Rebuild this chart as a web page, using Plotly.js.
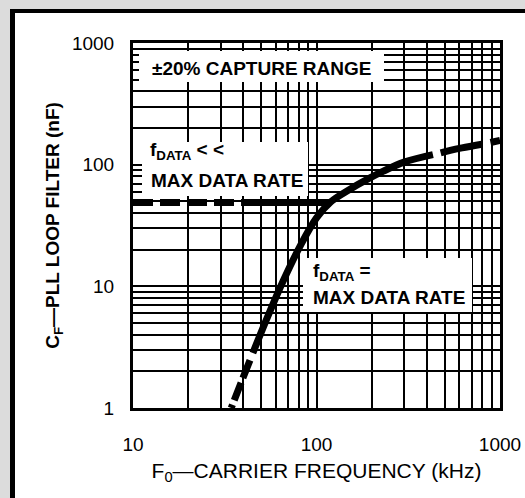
<!DOCTYPE html>
<html>
<head>
<meta charset="utf-8">
<script src="https://cdn.plot.ly/plotly-3.0.1.min.js"></script>
<style>
  html, body { margin: 0; padding: 0; background: #dcdcdc; width: 525px; height: 498px; overflow: hidden; }
  #frame { position: absolute; left: 10px; top: 9px; width: 620px; height: 620px; border-left: 5px solid #000; border-top: 4px solid #000; background: #fff; }
  #chart { position: absolute; left: 0; top: 0; width: 525px; height: 498px; }
</style>
</head>
<body>
<div id="frame"></div>
<div id="chart"></div>
<script>
// ---- data ----
const xTickVals = [10, 100, 1000];
const xTickText = ["10", "100", "1000"];
const yTickVals = [1, 10, 100, 1000];
const yTickText = ["1", "10", "100", "1000"];
const xMinorVals = [20, 30, 40, 50, 60, 70, 80, 90, 200, 300, 400, 500, 600, 700, 800, 900];
const yMinorVals = [2, 3, 4, 5, 6, 7, 8, 9, 20, 30, 40, 50, 60, 70, 80, 90, 200, 300, 400, 500, 600, 700, 800, 900];

// horizontal line: f_DATA << max data rate
const flatDashX = [10, 38.8];
const flatDashY = [48.8, 48.8];
const flatSolidX = [38.8, 119];
const flatSolidY = [48.8, 48.8];

// curve: f_DATA = max data rate
const curveLowX = [43.4, 36.9, 34.3];
const curveLowY = [2.47, 1.33, 1.0];
const curveMidX = [45, 53.7, 65.7, 81, 100, 120, 150, 190, 230, 300, 431];
const curveMidY = [2.83, 5.45, 11.0, 21.1, 36.5, 49.7, 62, 76, 88, 105, 121];
const curveHighX = [475, 600, 828, 1000];
const curveHighY = [125, 136, 149, 158];

// ---- layout helpers (pixel -> paper) ----
const L = 133, R = 500, T = 43, B = 408;
const px = x => (x - L) / (R - L);
const py = y => (B - y) / (B - T);

const boxFont = { family: "Liberation Sans, Arial, sans-serif", size: 19, color: "#000", weight: "bold" };

const lineStyle = (dash) => ({ color: "#000", width: 7, dash: dash, shape: "spline" });

const traces = [
  { x: flatDashX, y: flatDashY, mode: "lines", line: lineStyle("20px,7px"), hoverinfo: "skip" },
  { x: flatSolidX, y: flatSolidY, mode: "lines", line: lineStyle("solid"), hoverinfo: "skip" },
  { x: curveLowX, y: curveLowY, mode: "lines", line: lineStyle("19px,5px"), hoverinfo: "skip" },
  { x: curveMidX, y: curveMidY, mode: "lines", line: lineStyle("solid"), hoverinfo: "skip" },
  { x: curveHighX, y: curveHighY, mode: "lines", line: lineStyle("42px,9px"), hoverinfo: "skip" }
];

const axisCommon = {
  type: "log",
  showline: true, linecolor: "#000", linewidth: 3, mirror: true,
  showgrid: true, gridcolor: "#000", gridwidth: 2,
  ticks: "", zeroline: false,
  tickfont: { family: "Liberation Sans, Arial, sans-serif", size: 19, color: "#000" }
};

const layout = {
  width: 525, height: 498,
  margin: { l: L, r: 525 - R, t: T, b: 498 - B },
  paper_bgcolor: "rgba(0,0,0,0)",
  plot_bgcolor: "#fff",
  showlegend: false,
  xaxis: Object.assign({}, axisCommon, {
    range: [1, 3],
    tickmode: "array", tickvals: xTickVals, ticktext: xTickText,
    ticklabelstandoff: 17,
    minor: { tickmode: "array", tickvals: xMinorVals, showgrid: true, gridcolor: "#000", gridwidth: 2, ticks: "" },
    title: { text: "F<sub>0</sub>—CARRIER FREQUENCY (kHz)", font: { family: "Liberation Sans, Arial, sans-serif", size: 21, color: "#000" }, standoff: 10 }
  }),
  yaxis: Object.assign({}, axisCommon, {
    range: [0, 3],
    tickmode: "array", tickvals: yTickVals, ticktext: yTickText,
    ticklabelstandoff: 12,
    minor: { tickmode: "array", tickvals: yMinorVals, showgrid: true, gridcolor: "#000", gridwidth: 2, ticks: "" },
    title: { text: "C<sub>F</sub>—PLL LOOP FILTER (nF)", font: { family: "Liberation Sans, Arial, sans-serif", size: 19, color: "#000", weight: "bold" }, standoff: 8 }
  }),
  shapes: [
    { type: "rect", xref: "paper", yref: "paper", x0: px(139), x1: px(384), y0: py(82), y1: py(51), fillcolor: "#fff", line: { width: 0 }, layer: "above" },
    { type: "rect", xref: "paper", yref: "paper", x0: px(142), x1: px(308), y0: py(196), y1: py(142), fillcolor: "#fff", line: { width: 0 }, layer: "above" },
    { type: "rect", xref: "paper", yref: "paper", x0: px(303), x1: px(472), y0: py(312), y1: py(258), fillcolor: "#fff", line: { width: 0 }, layer: "above" }
  ],
  annotations: [
    { xref: "paper", yref: "paper", x: px(150), y: py(68), xanchor: "left", yanchor: "middle", showarrow: false, text: "±20% CAPTURE RANGE", font: boxFont },
    { xref: "paper", yref: "paper", x: px(148), y: py(151), xanchor: "left", yanchor: "middle", showarrow: false, text: "f<sub>DATA</sub> &lt; &lt;", font: boxFont },
    { xref: "paper", yref: "paper", x: px(149), y: py(180), xanchor: "left", yanchor: "middle", showarrow: false, text: "MAX DATA RATE", font: boxFont },
    { xref: "paper", yref: "paper", x: px(311), y: py(272), xanchor: "left", yanchor: "middle", showarrow: false, text: "f<sub>DATA</sub> =", font: boxFont },
    { xref: "paper", yref: "paper", x: px(311), y: py(297), xanchor: "left", yanchor: "middle", showarrow: false, text: "MAX DATA RATE", font: boxFont }
  ]
};

Plotly.newPlot("chart", traces, layout, { staticPlot: true, displayModeBar: false });
</script>
</body>
</html>
